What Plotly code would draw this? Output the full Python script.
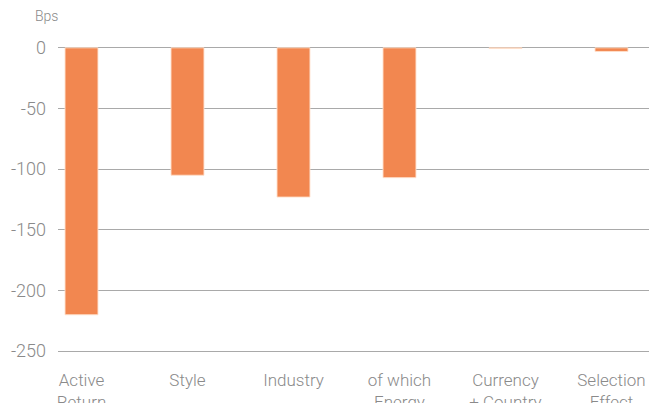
import plotly.graph_objects as go

categories = ["Active<br>Return", "Style", "Industry", "of which<br>Energy", "Currency<br>+ Country", "Selection<br>Effect"]
values = [-220, -105, -123, -107, -0.6, -3]
y_ticks = [0, -50, -100, -150, -200, -250]

W, H = 649, 403
L, R, T, B = 58, 0, 46, 50

fig = go.Figure(go.Bar(
    x=list(range(len(categories))), y=values,
    width=0.311,
    marker=dict(color="#F28750", line=dict(color="rgba(255,225,205,0.9)", width=1)),
))

fig.update_layout(
    width=W, height=H,
    margin=dict(l=L, r=R, t=T, b=B, pad=0, autoexpand=False),
    paper_bgcolor="white", plot_bgcolor="white",
    showlegend=False,
    font=dict(family="Roboto", size=17, color="#8a8a8a", weight=300),
    xaxis=dict(
        range=[-0.2217, 5.354], tickmode="array",
        tickvals=list(range(len(categories))), ticktext=categories,
        showgrid=False, zeroline=False, showline=False, ticks="",
        ticklabelstandoff=15, automargin=False,
        tickfont=dict(size=17, color="#8a8a8a"),
    ),
    yaxis=dict(
        range=[-251.5, 1.5], tickmode="array", tickvals=y_ticks,
        ticktext=[str(v) for v in y_ticks],
        showgrid=True, gridcolor="#a9a9a9", gridwidth=1,
        zeroline=False, showline=False, ticks="",
        ticklabelstandoff=11, automargin=False,
        tickfont=dict(size=18, color="#8a8a8a"),
    ),
    annotations=[dict(
        text="Bps", xref="paper", yref="paper", x=(33 - L) / (W - L - R), y=1.0,
        xanchor="left", yanchor="bottom", yshift=20, showarrow=False,
        font=dict(size=14, color="#8a8a8a"),
    )],
)

fig.write_html(
    "out.html",
    config={"displayModeBar": False},
    post_script="document.body.style.margin='0';document.body.style.overflow='hidden';",
)
